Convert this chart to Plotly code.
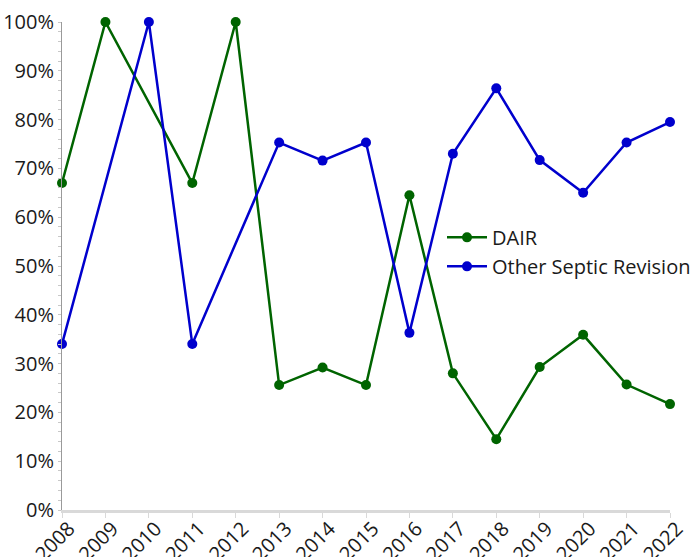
import plotly.graph_objects as go

years = list(range(2008, 2023))
dair = [0.670, 1.000, None, 0.670, 1.000, 0.256, 0.292, 0.256, 0.645, 0.280, 0.145, 0.293, 0.359, 0.257, 0.217]
other = [0.340, None, 1.000, 0.340, None, 0.753, 0.716, 0.753, 0.363, 0.730, 0.864, 0.717, 0.650, 0.753, 0.795]
y_ticks = [i / 10 for i in range(11)]
y_labels = [f"{i*10}%" for i in range(11)]

FONT = "Open Sans"
FS = 20

fig = go.Figure()
fig.add_trace(go.Scatter(
    x=years, y=dair, name="DAIR", mode="lines+markers", connectgaps=True,
    line=dict(color="#006400", width=2.5), marker=dict(color="#006400", size=10),
    cliponaxis=False,
))
fig.add_trace(go.Scatter(
    x=years, y=other, name="Other Septic Revision", mode="lines+markers", connectgaps=True,
    line=dict(color="#0000CD", width=2.5), marker=dict(color="#0000CD", size=10),
    cliponaxis=False,
))

fig.update_layout(
    width=694, height=557,
    margin=dict(l=62, r=24, t=22, b=47, autoexpand=False),
    paper_bgcolor="white", plot_bgcolor="white",
    font=dict(family=FONT, size=FS, color="#1a1a1a"),
    showlegend=True,
    legend=dict(x=0.625, y=0.529, xanchor="left", yanchor="middle",
                bgcolor="rgba(0,0,0,0)", font=dict(family=FONT, size=FS, color="#1a1a1a"),
                tracegroupgap=0, itemwidth=40),
    xaxis=dict(
        range=[2008, 2022], tickmode="array", tickvals=years, ticktext=[str(y) for y in years],
        tickangle=-45, showgrid=False, zeroline=False, automargin=False,
        showline=True, linecolor="#d9d9d9", linewidth=3,
        ticks="outside", ticklen=5, tickcolor="#d9d9d9", tickwidth=1,
        tickfont=dict(family=FONT, size=FS, color="#1a1a1a"),
        ticklabelstandoff=-9, ticklabelshift=7,
    ),
    yaxis=dict(
        range=[0, 1], tickmode="array", tickvals=y_ticks, ticktext=y_labels,
        showgrid=False, zeroline=False, automargin=False,
        showline=True, linecolor="#9a9a9a", linewidth=1,
        ticks="outside", ticklen=3, tickcolor="#c8c8c8",
        minor=dict(dtick=0.02, ticks="outside", ticklen=3, tickcolor="#c8c8c8", showgrid=False),
        tickfont=dict(family=FONT, size=FS, color="#1a1a1a"),
        ticklabelstandoff=0,
    ),
)

fig.write_html(
    "out.html",
    config={"displayModeBar": False},
    post_script="document.body.style.margin='0';document.body.style.overflow='hidden';",
)
